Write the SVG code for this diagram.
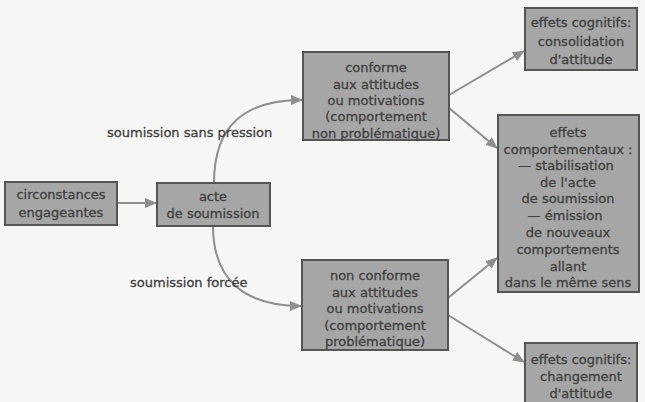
<svg xmlns="http://www.w3.org/2000/svg" width="645" height="402" viewBox="0 0 645 402">
<defs>
<style>
.box{fill:#a6a6a6;stroke:#555;stroke-width:2}
.t{font-family:"DejaVu Sans",sans-serif;font-size:13px;fill:#3f3f3f;stroke:#3f3f3f;stroke-width:0.3;text-anchor:middle}
.lbl{font-family:"DejaVu Sans",sans-serif;font-size:13px;fill:#3f3f3f;stroke:#3f3f3f;stroke-width:0.3}
.c{fill:none;stroke:#8e8e8e;stroke-width:2}
</style>
<marker id="ah" viewBox="0 0 12 10" refX="11" refY="5" markerWidth="12" markerHeight="10" markerUnits="userSpaceOnUse" orient="auto">
<path d="M0,0 L12,5 L0,10 z" fill="#8e8e8e"/>
</marker>
</defs>
<rect width="645" height="402" fill="#f6f6f4"/>
<g id="connectors">
<path class="c" d="M117,203 L156,203" marker-end="url(#ah)"/>
<path class="c" d="M214,183 C214,125 245,100 302,100" marker-end="url(#ah)"/>
<path class="c" d="M213,226 C213,280 245,306 301,306" marker-end="url(#ah)"/>
<path class="c" d="M449,95 L524,51" marker-end="url(#ah)"/>
<path class="c" d="M449,108 L497,148" marker-end="url(#ah)"/>
<path class="c" d="M448,298 L497,258" marker-end="url(#ah)"/>
<path class="c" d="M448,315 L524,362" marker-end="url(#ah)"/>
</g>
<g id="labels">
<text class="lbl" x="107" y="137">soumission sans pression</text>
<text class="lbl" x="130" y="287">soumission forcée</text>
</g>
<g id="circonstances">
<rect class="box" x="5" y="182" width="112" height="43"/>
<text class="t" x="61" y="199">circonstances</text>
<text class="t" x="61" y="217">engageantes</text>
</g>
<g id="acte">
<rect class="box" x="157" y="183" width="113" height="43"/>
<text class="t" x="213" y="201">acte</text>
<text class="t" x="213" y="218">de soumission</text>
</g>
<g id="conforme">
<rect class="box" x="303" y="52" width="146" height="88"/>
<text class="t" x="376" y="72">conforme</text>
<text class="t" x="376" y="88.5">aux attitudes</text>
<text class="t" x="376" y="105">ou motivations</text>
<text class="t" x="376" y="121">(comportement</text>
<text class="t" x="376" y="137.5">non problématique)</text>
</g>
<g id="nonconforme">
<rect class="box" x="302" y="260" width="146" height="90"/>
<text class="t" x="375" y="280">non conforme</text>
<text class="t" x="375" y="296.5">aux attitudes</text>
<text class="t" x="375" y="313">ou motivations</text>
<text class="t" x="375" y="330">(comportement</text>
<text class="t" x="375" y="346">problématique)</text>
</g>
<g id="cognitifs1">
<rect class="box" x="525" y="8" width="112" height="62"/>
<text class="t" x="581" y="27">effets cognitifs:</text>
<text class="t" x="581" y="45.5">consolidation</text>
<text class="t" x="581" y="64">d'attitude</text>
</g>
<g id="comportementaux">
<rect class="box" x="498" y="115" width="141" height="177"/>
<text class="t" x="568" y="137">effets</text>
<text class="t" x="568" y="154">comportementaux :</text>
<text class="t" x="566" y="170">— stabilisation</text>
<text class="t" x="568" y="187">de l'acte</text>
<text class="t" x="568" y="203">de soumission</text>
<text class="t" x="565" y="220">— émission</text>
<text class="t" x="568" y="237">de nouveaux</text>
<text class="t" x="568" y="254">comportements</text>
<text class="t" x="568" y="271">allant</text>
<text class="t" x="568" y="287">dans le même sens</text>
</g>
<g id="cognitifs2">
<rect class="box" x="525" y="343" width="112" height="62"/>
<text class="t" x="581" y="364">effets cognitifs:</text>
<text class="t" x="581" y="381">changement</text>
<text class="t" x="581" y="398">d'attitude</text>
</g>
</svg>
